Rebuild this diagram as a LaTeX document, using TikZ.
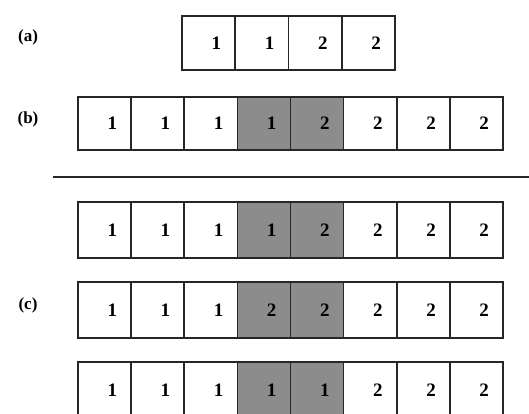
\documentclass[tikz,border=0pt]{standalone}
\usepackage{fontspec}
\setmainfont{Liberation Serif}
\begin{document}
\begin{tikzpicture}[x=1pt,y=-1pt,
  cell/.style={draw=black!85, line width=1.6pt, minimum width=53.1pt, minimum height=#1,
    text width=25pt, align=right, inner sep=0pt, font=\fontsize{19}{19}\selectfont\bfseries},
  cell/.default=54pt,
  shaded/.style={fill=black!45},
  lbl/.style={font=\fontsize{17}{17}\selectfont\bfseries, inner sep=0pt}]
\useasboundingbox (0,0) rectangle (529,413);
\clip (0,0) rectangle (529,413);
% labels
\node[lbl] (la) at (28,37) {(a)};
\node[lbl] (lb) at (28,119) {(b)};
\node[lbl] (lc) at (28,305) {(c)};
% row (a)
\foreach \d [count=\i] in {1,1,2,2}
  \node[cell] (a\i) at ({182+53.25*(\i-0.5)},43) {\raisebox{-3pt}{\d}};
% row (b)
\foreach \d [count=\i] in {1,1,1,1,2,2,2,2}
  \node[cell, minimum height=53pt, /utils/exec={\ifnum\i=4 \pgfkeysalso{shaded}\fi\ifnum\i=5 \pgfkeysalso{shaded}\fi}] (b\i) at ({78+53.125*(\i-0.5)},123.5) {\raisebox{-3pt}{\d}};
% separator
\coordinate (s1) at (53,177);
\coordinate (s2) at (529,177);
\draw[line width=1.6pt, black!85] (s1) -- (s2);
% rows (c)
\foreach \d [count=\i] in {1,1,1,1,2,2,2,2}
  \node[cell=56pt, /utils/exec={\ifnum\i=4 \pgfkeysalso{shaded}\fi\ifnum\i=5 \pgfkeysalso{shaded}\fi}] (c\i) at ({78+53.125*(\i-0.5)},230) {\raisebox{-3pt}{\d}};
\foreach \d [count=\i] in {1,1,1,2,2,2,2,2}
  \node[cell=56pt, /utils/exec={\ifnum\i=4 \pgfkeysalso{shaded}\fi\ifnum\i=5 \pgfkeysalso{shaded}\fi}] (d\i) at ({78+53.125*(\i-0.5)},310) {\raisebox{-3pt}{\d}};
\foreach \d [count=\i] in {1,1,1,1,1,2,2,2}
  \node[cell=56pt, /utils/exec={\ifnum\i=4 \pgfkeysalso{shaded}\fi\ifnum\i=5 \pgfkeysalso{shaded}\fi}] (e\i) at ({78+53.125*(\i-0.5)},390) {\raisebox{-3pt}{\d}};
\end{tikzpicture}
\end{document}
